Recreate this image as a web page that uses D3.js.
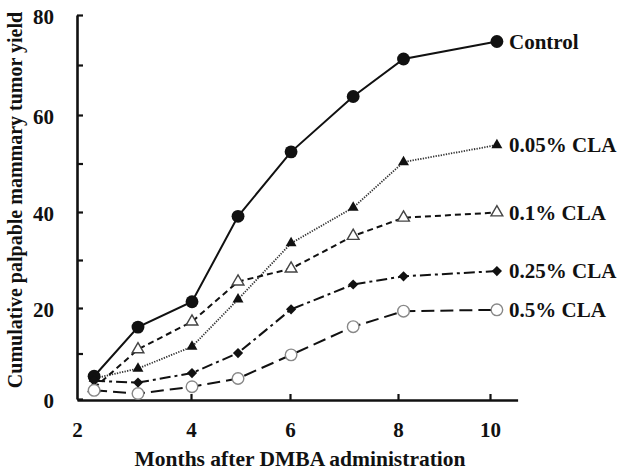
<!DOCTYPE html>
<html lang="en">
<head>
<meta charset="utf-8">
<title>Cumulative tumor yield</title>
<script src="https://d3js.org/d3.v7.min.js"></script>
<style>
  body { margin: 0; background: #fff; }
  svg text { font-family: "Liberation Serif", "Times New Roman", serif; font-weight: bold; fill: #111; }
</style>
</head>
<body>
<div id="chart"></div>
<script>
// months after DMBA (shared by all groups)
var months = [2.3, 3.07, 4.02, 4.95, 6.02, 7.17, 8.12, 10.15];

// cumulative palpable mammary tumor yield
var control = [5.0, 15.8, 21.3, 39.1, 52.4, 63.7, 71.2, 74.7];
var cla005  = [4.5, 6.7, 11.5, 21.8, 33.5, 40.9, 50.3, 53.8];
var cla01   = [2.4, 10.9, 17.0, 25.5, 28.2, 35.0, 38.8, 39.9];
var cla025  = [4.0, 3.6, 5.7, 10.1, 19.7, 24.9, 26.6, 27.7];
var cla05   = [1.9, 1.2, 2.7, 4.5, 9.7, 15.9, 19.3, 19.6];

var groupNames = ["Control", "0.05% CLA", "0.1% CLA", "0.25% CLA", "0.5% CLA"];

var xTicks = [2, 4, 6, 8, 10];
var yTicks = [0, 10, 20, 30, 40, 50, 60, 70, 80];

var width = 619, height = 471;

var svg = d3.select("#chart")
  .append("svg")
    .attr("width", width)
    .attr("height", height);

// the printed axes are not quite even, so map each labelled tick
var x = d3.scaleLinear()
  .domain([2, 4, 6, 8, 10, 10.6])
  .range([77, 191, 290, 398, 490, 517.6]);

var y = d3.scaleLinear()
  .domain([0, 20, 40, 60, 80])
  .range([399, 308, 212, 115, 15]);

var series = [
  {name: groupNames[0], values: control, dash: null,          width: 2,   color: "#111", marker: "dot"},
  {name: groupNames[1], values: cla005,  dash: "1.3,1.3",     width: 1.8, color: "#333", marker: "tri"},
  {name: groupNames[2], values: cla01,   dash: "6,4",         width: 2,   color: "#111", marker: "otri"},
  {name: groupNames[3], values: cla025,  dash: "11,4,3,4",    width: 2,   color: "#111", marker: "diamond"},
  {name: groupNames[4], values: cla05,   dash: "13,6",        width: 2,   color: "#111", marker: "ocircle"}
];

// axes
var xAxis = svg.append("g")
  .attr("transform", "translate(0,400)")
  .call(d3.axisBottom(x).tickValues(xTicks).tickSize(-6).tickSizeOuter(0).tickPadding(22));

var yAxis = svg.append("g")
  .attr("transform", "translate(77,0)")
  .call(d3.axisLeft(y).tickValues(yTicks).tickSize(-6).tickSizeOuter(0).tickPadding(23)
    .tickFormat(function(d) { return d % 20 === 0 ? d : ""; }));

[xAxis, yAxis].forEach(function(a) {
  a.attr("font-family", null).attr("font-size", null);
  a.select(".domain").attr("stroke", "#111").attr("stroke-width", 2.6);
  a.selectAll(".tick line").attr("stroke", "#111").attr("stroke-width", 2.2);
  a.selectAll(".tick text").style("font-size", "21px");
});
yAxis.selectAll(".tick text").attr("dy", "0.42em");
xAxis.select(".tick line").remove();

// lines
var line = d3.line()
  .x(function(d, i) { return x(months[i]); })
  .y(function(d) { return y(d); });

var lineG = svg.append("g");
series.forEach(function(s) {
  lineG.append("path")
    .datum(s.values)
    .attr("d", line)
    .attr("fill", "none")
    .attr("stroke", s.color)
    .attr("stroke-width", s.width)
    .attr("stroke-dasharray", s.dash);
});

// markers
var sym = {
  dot:     d3.symbol().type(d3.symbolCircle).size(130),
  tri:     d3.symbol().type(d3.symbolTriangle).size(52),
  otri:    d3.symbol().type(d3.symbolTriangle).size(60),
  diamond: d3.symbol().type(d3.symbolSquare).size(52),
  ocircle: d3.symbol().type(d3.symbolCircle).size(105)
};

series.forEach(function(s) {
  var open = s.marker === "otri" || s.marker === "ocircle";
  svg.append("g")
    .selectAll("path")
    .data(s.values)
    .enter()
    .append("path")
      .attr("d", sym[s.marker])
      .attr("transform", function(d, i) {
        return "translate(" + x(months[i]) + "," + y(d) + ")" + (s.marker === "diamond" ? " rotate(45)" : "");
      })
      .attr("fill", open ? "#fff" : "#111")
      .attr("stroke", open ? (s.marker === "ocircle" ? "#888" : "#444") : "none")
      .attr("stroke-width", 1.4);
});

// group labels at the end of each line
svg.append("g")
  .selectAll("text")
  .data(series)
  .enter()
  .append("text")
    .attr("x", 509)
    .attr("y", function(d) { return y(d.values[d.values.length - 1]); })
    .attr("dy", "0.35em")
    .style("font-size", "21px")
    .text(function(d) { return d.name; });

// axis titles
svg.append("text")
  .attr("text-anchor", "middle")
  .attr("x", 300)
  .attr("y", 466)
  .style("font-size", "21.5px")
  .text("Months after DMBA administration");

svg.append("text")
  .attr("text-anchor", "middle")
  .attr("transform", "rotate(-90)")
  .attr("x", -200)
  .attr("y", 22)
  .style("font-size", "20px")
  .text("Cumulative palpable mammary tumor yield");
</script>
</body>
</html>
